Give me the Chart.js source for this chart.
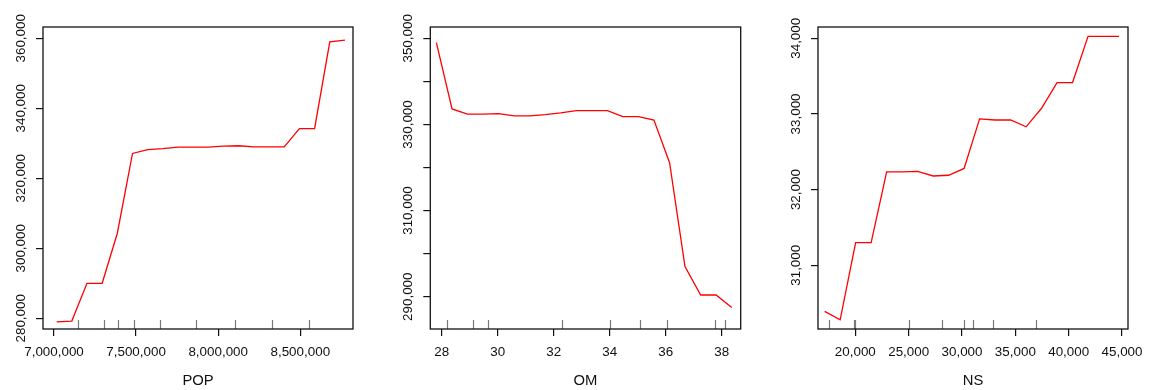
<!DOCTYPE html>
<html>
<head>
<meta charset="utf-8">
<script src="https://cdn.jsdelivr.net/npm/chart.js@4/dist/chart.umd.min.js"></script>
<style>
  html, body { margin: 0; padding: 0; background: #fff; }
  #wrap { position: relative; width: 1152px; height: 390px; }
  canvas { position: absolute; top: 0; }
</style>
</head>
<body>
<div id="wrap">
  <canvas id="c1" width="384" height="390" style="left:0px"></canvas>
  <canvas id="c2" width="384" height="390" style="left:384px"></canvas>
  <canvas id="c3" width="384" height="390" style="left:768px"></canvas>
</div>
<script>
// POP panel
const popX = [7016000, 7108400, 7200800, 7293300, 7385700, 7478100, 7570500, 7663000, 7755400, 7847800,
              7940200, 8032600, 8125000, 8217500, 8309900, 8402300, 8494700, 8587100, 8679600, 8772000];
const popY = [279000, 279200, 290000, 290000, 304300, 327100, 328200, 328500, 328900, 328900,
              328900, 329200, 329300, 329000, 329000, 329000, 334200, 334200, 359000, 359500];
const popRug = [7148000, 7306000, 7392000, 7487000, 7646000, 7865000, 8104000, 8330000, 8555000];
const popXTicks = [7000000, 7500000, 8000000, 8500000];
const popYTicks = [280000, 300000, 320000, 340000, 360000];

// OM panel
const omX = [27.81, 28.37, 28.92, 29.48, 30.03, 30.59, 31.14, 31.70, 32.25, 32.81,
             33.36, 33.92, 34.47, 35.03, 35.58, 36.14, 36.69, 37.25, 37.80, 38.36];
const omY = [349000, 333600, 332400, 332400, 332500, 332000, 332000, 332300, 332700, 333200,
             333200, 333200, 331800, 331800, 331000, 321100, 297000, 290400, 290400, 287500];
const omRug = [28.18, 29.11, 29.66, 32.29, 34.02, 35.08, 36.06, 37.77, 38.13];
const omXTicks = [28, 30, 32, 34, 36, 38];
const omYTicks = [290000, 300000, 310000, 320000, 330000, 340000, 350000];
const omYLabels = [290000, 310000, 330000, 350000];

// NS panel
const nsX = [17125, 18577, 20029, 21482, 22934, 24386, 25839, 27291, 28743, 30196,
             31648, 33100, 34553, 36005, 37457, 38909, 40362, 41814, 43266, 44719];
const nsY = [30390, 30280, 31300, 31300, 32235, 32235, 32240, 32180, 32190, 32280,
             32935, 32920, 32920, 32830, 33075, 33415, 33415, 34025, 34025, 34025];
const nsRug = [17562, 19850, 19972, 25034, 28100, 30163, 31063, 32910, 36913];
const nsXTicks = [20000, 25000, 30000, 35000, 40000, 45000];
const nsYTicks = [31000, 32000, 33000, 34000];

const fmt = v => v.toLocaleString('en-US');
const FONT = "'Liberation Sans', Arial, Helvetica, sans-serif";
const LABEL_SIZE = 13.4;

// box, rug and rotated y labels, like base R graphics
const rPlot = {
  id: 'rPlot',
  afterDraw(chart) {
    const o = chart.options.plugins.rPlot;
    const ctx = chart.ctx;
    const a = chart.chartArea;
    const xs = chart.scales.x, ys = chart.scales.y;
    ctx.save();
    // rug
    ctx.strokeStyle = '#7a7a7a';
    ctx.lineWidth = 1.2;
    o.rug.forEach(v => {
      const px = Math.round(xs.getPixelForValue(v)) + 0.5;
      ctx.beginPath();
      ctx.moveTo(px, a.bottom);
      ctx.lineTo(px, a.bottom - 9);
      ctx.stroke();
    });
    // box
    ctx.strokeStyle = '#111';
    ctx.lineWidth = 1.3;
    ctx.strokeRect(a.left, a.top, a.right - a.left, a.bottom - a.top);
    // y labels
    ctx.fillStyle = '#111';
    ctx.font = LABEL_SIZE + 'px ' + FONT;
    ctx.textAlign = 'center';
    ctx.textBaseline = 'alphabetic';
    o.yLabels.forEach(v => {
      const py = ys.getPixelForValue(v);
      ctx.save();
      ctx.translate(a.left - 18.2, py);
      ctx.rotate(-Math.PI / 2);
      ctx.fillText(fmt(v), 0, 0);
      ctx.restore();
    });
    ctx.restore();
  }
};

function makePanel(id, xs, ys, cfg) {
  const ctx = document.getElementById(id).getContext('2d');
  return new Chart(ctx, {
    type: 'line',
    data: {
      datasets: [{
        data: xs.map((x, i) => ({ x: x, y: ys[i] })),
        borderColor: '#ff0000',
        borderWidth: 1.3,
        pointRadius: 0,
        tension: 0,
        fill: false
      }]
    },
    options: {
      responsive: false,
      devicePixelRatio: 1,
      animation: false,
      layout: { padding: { left: 0, right: cfg.padRight, top: 27, bottom: 0 } },
      plugins: {
        legend: { display: false },
        tooltip: { enabled: false },
        rPlot: { rug: cfg.rug, yLabels: cfg.yLabels }
      },
      scales: {
        x: {
          type: 'linear',
          min: cfg.xMin,
          max: cfg.xMax,
          afterBuildTicks: s => { s.ticks = cfg.xTicks.map(v => ({ value: v })); },
          afterFit: s => { s.height = 61; },
          grid: { drawOnChartArea: false, drawTicks: true, tickLength: 7, color: '#111', lineWidth: 1.2 },
          border: { display: false },
          ticks: {
            maxRotation: 0, minRotation: 0, autoSkip: false, padding: 8,
            color: '#111', font: { family: FONT, size: LABEL_SIZE },
            callback: v => fmt(v)
          },
          title: {
            display: true, text: cfg.title, color: '#111',
            font: { family: FONT, size: 14.8 }, padding: { top: 0, bottom: 0 }
          }
        },
        y: {
          type: 'linear',
          min: cfg.yMin,
          max: cfg.yMax,
          afterBuildTicks: s => { s.ticks = cfg.yTicks.map(v => ({ value: v })); },
          afterFit: s => { s.width = cfg.yWidth; },
          grid: { drawOnChartArea: false, drawTicks: true, tickLength: 7, color: '#111', lineWidth: 1.2 },
          border: { display: false },
          ticks: { display: false }
        }
      }
    },
    plugins: [rPlot]
  });
}

makePanel('c1', popX, popY, {
  title: 'POP', rug: popRug, xTicks: popXTicks, yTicks: popYTicks, yLabels: popYTicks,
  xMin: 6933000, xMax: 8821000, yMin: 276940, yMax: 363230, yWidth: 43, padRight: 31
});
makePanel('c2', omX, omY, {
  title: 'OM', rug: omRug, xTicks: omXTicks, yTicks: omYTicks, yLabels: omYLabels,
  xMin: 27.593, xMax: 38.68, yMin: 282500, yMax: 352630, yWidth: 46.3, padRight: 27.3
});
makePanel('c3', nsX, nsY, {
  title: 'NS', rug: nsRug, xTicks: nsXTicks, yTicks: nsYTicks, yLabels: nsYTicks,
  xMin: 16500, xMax: 45560, yMin: 30158, yMax: 34149, yWidth: 50, padRight: 24
});
</script>
</body>
</html>
